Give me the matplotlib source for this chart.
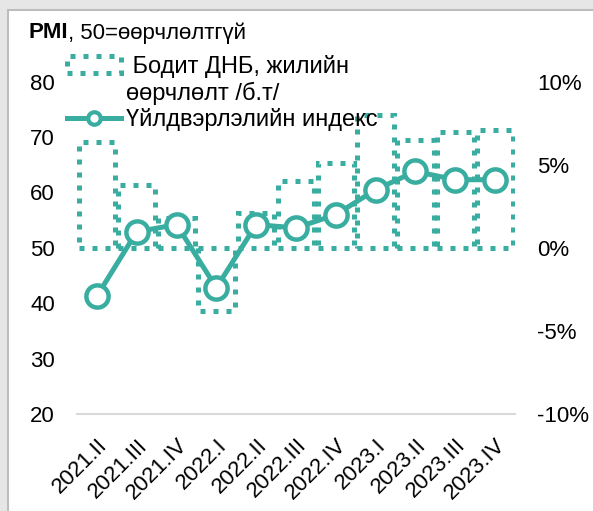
import numpy as np
import matplotlib
matplotlib.use('Agg')
import matplotlib.pyplot as plt
from matplotlib.patches import Rectangle
from matplotlib.lines import Line2D
from matplotlib.transforms import ScaledTranslation

plt.rcParams['font.family'] = ['Liberation Sans', 'DejaVu Sans']

# data
quarters = ['2021.II', '2021.III', '2021.IV', '2022.I', '2022.II', '2022.III',
            '2022.IV', '2023.I', '2023.II', '2023.III', '2023.IV']
pmi = [41.3, 52.9, 54.2, 42.8, 54.2, 53.6, 56.0, 60.5, 63.8, 62.3, 62.3]
gdp = [6.4, 3.8, 1.8, -3.8, 2.1, 4.0, 5.1, 8.0, 6.5, 7.0, 7.1]

pmi_ticks = [20, 30, 40, 50, 60, 70, 80]
gdp_ticks = [-10, -5, 0, 5, 10]
gdp_ticklabels = ['-10%', '-5%', '0%', '5%', '10%']

teal = '#38ada0'

fig = plt.figure(figsize=(5.93, 5.11), dpi=100, facecolor='#e6e6e6')
# white panel with grey frame, like the excel chart area
frame = Rectangle((8 / 593, -0.02), 1.0, 1 - 10 / 511 + 0.02, transform=fig.transFigure,
                  facecolor='white', edgecolor='#bdbdbd', lw=1.5, zorder=-5)
fig.add_artist(frame)

ax = fig.add_axes([77 / 593, 1 - 414 / 511, 438 / 593, 332.3 / 511])
ax2 = ax.twinx()

x = np.arange(len(quarters))
bars = ax2.bar(x, gdp, width=0.92, facecolor='none', edgecolor=teal, lw=3.6,
               linestyle=(0, (1, 1.6)))
line, = ax.plot(x, pmi, color=teal, lw=3.6, marker='o', ms=16, mfc='white',
                mec=teal, mew=3.2)
ax.set_zorder(ax2.get_zorder() + 1)
ax.patch.set_visible(False)

ax.set_xlim(-0.5, len(quarters) - 0.5)
ax.set_ylim(20, 80)
ax.set_yticks(pmi_ticks)
ax2.set_ylim(-10, 10)
ax2.set_yticks(gdp_ticks)
ax2.set_yticklabels(gdp_ticklabels)

ax.set_xticks(x)
ax.set_xticklabels(quarters, rotation=45, ha='right', va='top', rotation_mode='anchor')
shift = ScaledTranslation(-5 / 100, 0, fig.dpi_scale_trans)
for lab in ax.get_xticklabels():
    lab.set_transform(lab.get_transform() + shift)

for s in ['top', 'left', 'right']:
    ax.spines[s].set_visible(False)
for s in ax2.spines.values():
    s.set_visible(False)
ax.spines['bottom'].set_color('#d9d9d9')
ax.spines['bottom'].set_linewidth(1.5)

ax.tick_params(axis='y', length=0, pad=16, labelsize=16)
ax.tick_params(axis='x', length=0, pad=15, labelsize=16)
ax2.tick_params(axis='y', length=0, pad=16, labelsize=16)

# legend: blank middle handle so the second line of the label sits under the first
line_key = Line2D([], [], color=teal, lw=3.6, marker='o', ms=9, mfc='white',
                  mec=teal, mew=3)
handles = [bars, Line2D([], [], ls='none'), line_key]
labels = [' Бодит ДНБ, жилийн', 'өөрчлөлт /б.т/', 'Үйлдвэрлэлийн индекс']
fig.legend(handles, labels, loc='upper left', bbox_to_anchor=(67 / 593, 1 - 55 / 511),
           frameon=False, fontsize=17, handlelength=2.3, handletextpad=0.2,
           labelspacing=0.15, borderpad=0, borderaxespad=0)

# title: bold PMI followed by plain text
t1 = fig.text(28 / 593, 1 - 33 / 511, 'PMI', fontsize=16, fontweight='bold', va='center')
ax.annotate(', 50=өөрчлөлтгүй', xy=(1, 0), xycoords=t1, fontsize=16,
            ha='left', va='bottom')

fig.savefig('out.png', dpi=100, facecolor=fig.get_facecolor())
